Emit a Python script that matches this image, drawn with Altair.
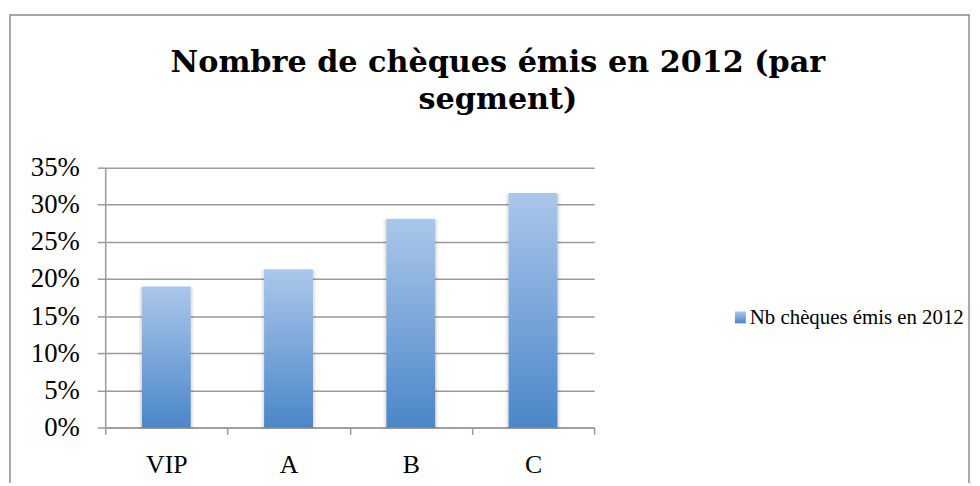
import altair as alt
import pandas as pd

# ---- data ----
segments = ["VIP", "A", "B", "C"]
shares = [0.190, 0.213, 0.281, 0.316]
series_name = "Nb chèques émis en 2012"
title_lines = ["Nombre de chèques émis en 2012 (par", "segment)"]
y_ticks = [0.0, 0.05, 0.10, 0.15, 0.20, 0.25, 0.30, 0.35]

df = pd.DataFrame({"segment": segments, "share": shares})
one = pd.DataFrame({"title": ["\n".join(title_lines)], "legend": [series_name]})

GRAY = "#9a9a9a"
LABEL_FONT = "Liberation Serif"
gradient = {
    "gradient": "linear", "x1": 0, "y1": 0, "x2": 0, "y2": 1,
    "stops": [
        {"offset": 0, "color": "#abc7ea"},
        {"offset": 0.5, "color": "#7ba7da"},
        {"offset": 1, "color": "#4a86c8"},
    ],
}

x_enc = alt.X(
    "segment:N", sort=segments,
    scale=alt.Scale(paddingInner=0, paddingOuter=0),
    axis=alt.Axis(title=None, labelAngle=0, tickBand="extent", grid=False,
                  tickSize=7, labelPadding=38, labelBaseline="alphabetic",
                  labelFont=LABEL_FONT, labelFontSize=26, labelColor="#000",
                  domainColor=GRAY, tickColor=GRAY, domainWidth=1.5, tickWidth=1.5),
)
y_enc = alt.Y(
    "share:Q",
    scale=alt.Scale(domain=[0, 0.35], nice=False),
    axis=alt.Axis(title=None, values=y_ticks, format=".0%", grid=True,
                  gridColor=GRAY, gridWidth=1.5, tickSize=8, labelPadding=18,
                  labelFont=LABEL_FONT, labelFontSize=27, labelColor="#000",
                  domainColor=GRAY, tickColor=GRAY, domainWidth=1.5, tickWidth=1.5),
)

shadow1 = alt.Chart(df).mark_bar(color="#000", opacity=0.04, width=56, yOffset=1).encode(x=x_enc, y=y_enc)
shadow2 = alt.Chart(df).mark_bar(color="#000", opacity=0.06, width=53, yOffset=1).encode(x=x_enc, y=y_enc)
bars = alt.Chart(df).mark_bar(color=gradient, width=alt.RelativeBandSize(0.4)).encode(x=x_enc, y=y_enc)

title = alt.Chart(one).mark_text(
    font="DejaVu Serif", fontWeight="bold", fontSize=30.5, align="center",
    baseline="alphabetic", lineBreak="\n", lineHeight=37, color="#000",
).encode(text="title:N", x=alt.value(396), y=alt.value(-96))

legend_sym = alt.Chart(one).mark_rect(color=gradient).encode(
    x=alt.value(635), x2=alt.value(646), y=alt.value(145), y2=alt.value(157))
legend_txt = alt.Chart(one).mark_text(
    font=LABEL_FONT, fontSize=21, align="left", baseline="alphabetic", color="#000",
).encode(text="legend:N", x=alt.value(650), y=alt.value(158))

border = alt.Chart(one).mark_rect(fillOpacity=0, stroke="#8c8c8c", strokeWidth=1.5).encode(
    x=alt.value(-96), x2=alt.value(871), y=alt.value(-154), y2=alt.value(400))

chart = alt.layer(border, shadow1, shadow2, bars, title, legend_sym, legend_txt).properties(
    width=493, height=262,
    autosize=alt.AutoSizeParams(type="none"),
    padding={"left": 98, "top": 159, "right": 381, "bottom": 54},
).configure_view(strokeWidth=0)

chart.save("out.html", embed_options={"renderer": "svg", "actions": False})
